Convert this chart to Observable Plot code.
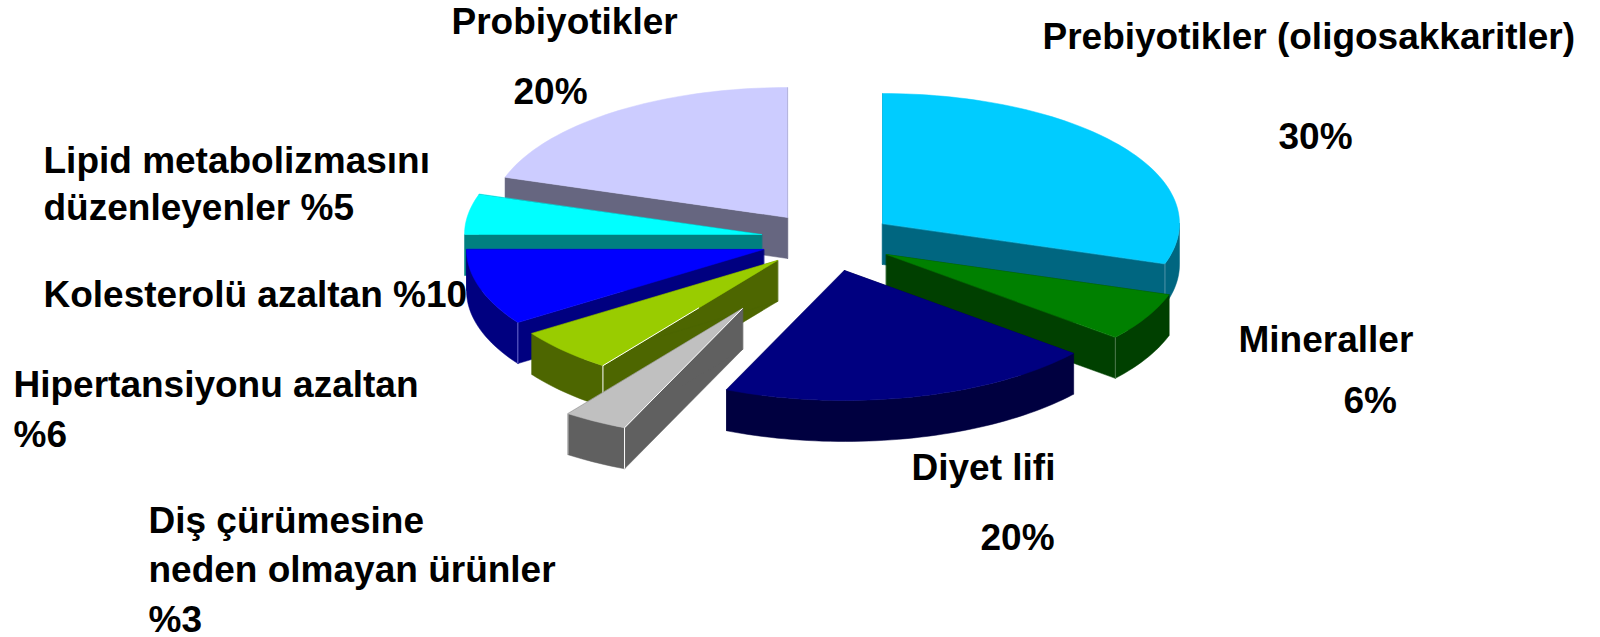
<!DOCTYPE html>
<html>
<head>
<meta charset="utf-8">
<script src="https://cdn.jsdelivr.net/npm/d3@7"></script>
<script src="https://cdn.jsdelivr.net/npm/@observablehq/plot@0.6"></script>
<style>
html,body{margin:0;padding:0;background:#fff}
svg{display:block}
</style>
</head>
<body>
<div id="chart"></div>
<script>
// Data, clockwise from 12 o'clock (shares)
const categories = ["Prebiyotikler","Mineraller","Diyet lifi","Diş çürümesine","Hipertansiyon","Kolesterol","Lipid","Probiyotikler"];
const shares = [30, 6, 20.5, 3.5, 5.5, 9.5, 5, 20];
const topColors = ["#00CCFF","#008000","#000080","#C0C0C0","#99CC00","#0000FF","#00FFFF","#CCCCFF"];
const wallColors = ["#006680","#004000","#000040","#606060","#4D6600","#000080","#008080","#666680"];
const edgeColors = ["#4d94a8","#4d7a4d",null,"#ffffff","#ffffff","#6a6ad0",null,null];
// Exploded position of each slice's apex
const apexX = [882, 886, 844, 742, 777, 763, 761, 787];
const apexY = [223, 254, 270, 308, 260, 249, 234, 217];
// Back-to-front painting order
const drawOrder = [7, 6, 5, 4, 3, 0, 1, 2];

// Text lines
const labelLines = ["Probiyotikler","20%","Prebiyotikler (oligosakkaritler)","30%","Lipid metabolizmasını","düzenleyenler %5","Kolesterolü azaltan %10","Hipertansiyonu azaltan","%6","Diş çürümesine","neden olmayan ürünler","%3","Diyet lifi","20%","Mineraller","6%"];
const labelX = [451,513,1042,1278,43,43,43,13,13,148,148,148,911,980,1238,1343];
const labelY = [33,103,48,148,172,219,306,396,446,532,581,631,479,549,351,412];

// Projection of the tilted pie
const rx = 297, ry = 130, depth = 41;
const cum = d3.cumsum(shares);
const rad = d => d * Math.PI / 180;
const rim = (i, deg, dy = 0) => ({
  x: apexX[i] + rx * Math.sin(rad(deg)),
  y: apexY[i] - ry * Math.cos(rad(deg)) + dy
});
const arc = (i, a, b, dy = 0) => {
  const n = Math.max(2, Math.ceil(Math.abs(b - a) / 1.5));
  return d3.range(n + 1).map(k => rim(i, a + (b - a) * k / n, dy));
};
const startAngle = i => (cum[i] - shares[i]) * 3.6;
const endAngle = i => cum[i] * 3.6;

// Polygons of one slice: radial walls, outer rim, top face
function slicePolys(i) {
  const polys = [];
  let id = 0;
  const add = (pts, fill) => { pts.forEach(p => polys.push({x: p.x, y: p.y, id, fill})); id++; };
  const a0 = startAngle(i), a1 = endAngle(i);
  const ax = apexX[i], ay = apexY[i];
  for (const a of [a0, a1]) {
    const p = rim(i, a);
    add([{x: ax, y: ay}, p, {x: p.x, y: p.y + depth}, {x: ax, y: ay + depth}], wallColors[i]);
  }
  const r0 = Math.max(a0, 90), r1 = Math.min(a1, 270);
  if (r1 > r0) add([...arc(i, r0, r1), ...arc(i, r1, r0, depth)], wallColors[i]);
  add([{x: ax, y: ay}, ...arc(i, a0, a1)], topColors[i]);
  return polys;
}
// Highlights: vertical corner of each slice, and bright top edges on the two thin slices
function sliceEdges(i) {
  if (!edgeColors[i]) return [];
  const corner = rim(i, i < 2 ? endAngle(i) : startAngle(i));
  const out = [{x1: corner.x, y1: corner.y, x2: corner.x, y2: corner.y + depth, stroke: edgeColors[i]}];
  if (i === 3 || i === 4) {
    const t = i === 3 ? 1 : 0.55;
    out.push({x1: corner.x, y1: corner.y, x2: corner.x + (apexX[i] - corner.x) * t, y2: corner.y + (apexY[i] - corner.y) * t, stroke: "#ffffff"});
  }
  if (i === 3) {
    const far = rim(i, endAngle(i));
    out.push({x1: far.x, y1: far.y, x2: far.x, y2: far.y + depth, stroke: "#d0d0d0"});
  }
  return out;
}
const labels = labelLines.map((text, i) => ({text, x: labelX[i], y: labelY[i]}));

const sliceMarks = drawOrder.flatMap(i => [
  Plot.line(slicePolys(i), {x: "x", y: "y", z: "id", fill: "fill", stroke: "fill", strokeWidth: 0.5, curve: "linear-closed"}),
  Plot.link(sliceEdges(i), {x1: "x1", y1: "y1", x2: "x2", y2: "y2", stroke: "stroke", strokeWidth: 1})
]);

const chart = Plot.plot({
  width: 1600, height: 637,
  margin: 0,
  style: {background: "#fff", overflow: "visible"},
  x: {type: "linear", domain: [0, 1600], range: [0, 1600], axis: null},
  y: {type: "linear", domain: [0, 637], range: [0, 637], axis: null},
  color: {type: "identity"},
  marks: [
    ...sliceMarks,
    Plot.text(labels, {x: "x", y: "y", text: "text", textAnchor: "start", lineAnchor: "bottom",
      fontFamily: "Liberation Sans, Arial, sans-serif", fontWeight: "bold", fontSize: 37, fill: "#000"})
  ]
});
document.getElementById("chart").appendChild(chart);
</script>
</body>
</html>
